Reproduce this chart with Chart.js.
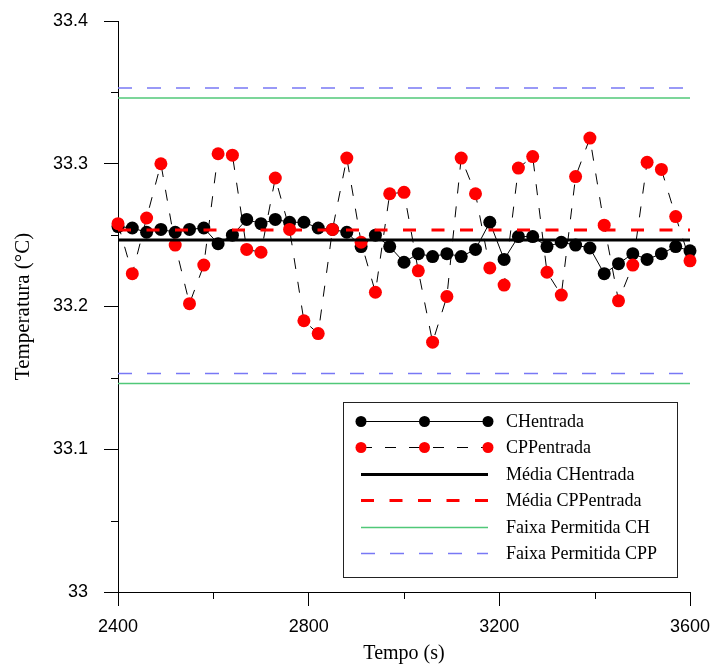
<!DOCTYPE html>
<html>
<head>
<meta charset="utf-8">
<script src="https://cdn.jsdelivr.net/npm/chart.js@4.4.0/dist/chart.umd.min.js"></script>
<style>
  html, body { margin: 0; padding: 0; background: #fff; }
  #box { width: 715px; height: 667px; }
</style>
</head>
<body>
<div id="box"><canvas id="grafico"></canvas></div>
<script>
// tempo (s), leituras a cada 30 s
var tempo = [2400, 2430, 2460, 2490, 2520, 2550, 2580, 2610, 2640, 2670, 2700,
             2730, 2760, 2790, 2820, 2850, 2880, 2910, 2940, 2970, 3000,
             3030, 3060, 3090, 3120, 3150, 3180, 3210, 3240, 3270, 3300,
             3330, 3360, 3390, 3420, 3450, 3480, 3510, 3540, 3570, 3600];

var chEntrada = [33.256, 33.255, 33.252, 33.254, 33.252, 33.254, 33.255, 33.244, 33.250, 33.261,
                 33.258, 33.261, 33.259, 33.259, 33.255, 33.254, 33.252, 33.242, 33.250, 33.242,
                 33.231, 33.237, 33.235, 33.237, 33.235, 33.240, 33.259, 33.233, 33.249, 33.249,
                 33.242, 33.245, 33.243, 33.241, 33.223, 33.230, 33.237, 33.233, 33.237, 33.242, 33.239];

var cppEntrada = [33.258, 33.223, 33.262, 33.300, 33.243, 33.202, 33.229, 33.307, 33.306, 33.240,
                  33.238, 33.290, 33.254, 33.190, 33.181, 33.254, 33.304, 33.245, 33.210, 33.279,
                  33.280, 33.225, 33.175, 33.207, 33.304, 33.279, 33.227, 33.215, 33.297, 33.305,
                  33.224, 33.208, 33.291, 33.318, 33.257, 33.204, 33.229, 33.301, 33.296, 33.263, 33.232];

// linhas horizontais (inicio e fim do periodo)
var extremos = [2400, 3600];
var mediaCH = [33.2466, 33.2466];
var mediaCPP = [33.2536, 33.2536];
var faixaCHsup = [33.346, 33.346];
var faixaCHinf = [33.146, 33.146];
var faixaCPPsup = [33.353, 33.353];
var faixaCPPinf = [33.153, 33.153];

var rotulos = ['CHentrada', 'CPPentrada', 'Média CHentrada', 'Média CPPentrada',
               'Faixa Permitida CH', 'Faixa Permitida CPP'];

function pares(xs, ys) {
  return xs.map(function(x, i) { return {x: x, y: ys[i]}; });
}

var verde = 'rgb(80,200,120)';
var azul = 'rgb(120,120,245)';

function linhaHoriz(label, valores, cor, largura, traco, ordem, naLegenda) {
  return {
    label: label, data: pares(extremos, valores),
    borderColor: cor, borderWidth: largura, borderDash: traco,
    pointRadius: 0, order: ordem, naLegenda: naLegenda, clip: false
  };
}

// minor ticks mais curtos
var ticksMenores = {
  id: 'ticksMenores',
  afterDraw: function(chart) {
    var ctx = chart.ctx;
    var sx = chart.scales.x, sy = chart.scales.y;
    ctx.save();
    ctx.strokeStyle = '#000';
    ctx.lineWidth = 1;
    ctx.beginPath();
    sx.ticks.forEach(function(t) {
      if (Math.round(t.value) % 400 != 0) {
        var px = Math.round(sx.getPixelForValue(t.value)) + 0.5;
        ctx.moveTo(px, sx.top);
        ctx.lineTo(px, sx.top + 7);
      }
    });
    sy.ticks.forEach(function(t) {
      if (Math.round(t.value * 100) % 10 != 0) {
        var py = Math.round(sy.getPixelForValue(t.value)) + 0.5;
        ctx.moveTo(sy.right, py);
        ctx.lineTo(sy.right - 7, py);
      }
    });
    ctx.stroke();
    ctx.restore();
  }
};

// legenda em caixa no canto inferior direito
var legenda = {
  id: 'legenda',
  afterDatasetsDraw: function(chart) {
    var ctx = chart.ctx, area = chart.chartArea;
    var w = 334, h = 175;
    var x0 = area.right - 13 - w, y0 = area.bottom - 15 - h;
    ctx.save();
    ctx.fillStyle = '#fff';
    ctx.fillRect(x0, y0, w, h);
    ctx.strokeStyle = '#222';
    ctx.lineWidth = 1;
    ctx.strokeRect(x0 + 0.5, y0 + 0.5, w, h);
    var itens = chart.data.datasets.filter(function(d) { return d.naLegenda; });
    itens.forEach(function(ds, i) {
      var y = Math.round(y0 + 19 + i * 26.4) + 0.5;
      var xa = x0 + 18, xb = x0 + 145;
      ctx.beginPath();
      ctx.setLineDash(ds.borderDash || []);
      ctx.strokeStyle = ds.borderColor;
      ctx.lineWidth = ds.borderWidth;
      ctx.moveTo(xa, y);
      ctx.lineTo(xb, y);
      ctx.stroke();
      ctx.setLineDash([]);
      if (ds.pointRadius > 0) {
        ctx.fillStyle = ds.pointBackgroundColor;
        [xa, (xa + xb) / 2, xb].forEach(function(px) {
          ctx.beginPath();
          ctx.arc(px, y, 5.5, 0, Math.PI * 2);
          ctx.fill();
        });
      }
      ctx.fillStyle = '#000';
      ctx.font = '18px "Liberation Serif", "Times New Roman", serif';
      ctx.textBaseline = 'middle';
      ctx.fillText(ds.label, x0 + 163, y + 1);
    });
    ctx.restore();
  }
};

var grafico = new Chart(document.getElementById('grafico'), {
  type: 'line',
  data: {
    datasets: [
      {
        label: rotulos[0], data: pares(tempo, chEntrada),
        borderColor: '#000', borderWidth: 1,
        pointRadius: 6.5, pointBackgroundColor: '#000', pointBorderWidth: 0,
        order: 4, naLegenda: true, clip: false
      },
      {
        label: rotulos[1], data: pares(tempo, cppEntrada),
        borderColor: '#000', borderWidth: 1, borderDash: [11, 13],
        pointRadius: 6.5, pointBackgroundColor: 'rgb(255,0,0)', pointBorderWidth: 0,
        order: 3, naLegenda: true, clip: false
      },
      linhaHoriz(rotulos[2], mediaCH, '#000', 3, [], 2, true),
      linhaHoriz(rotulos[3], mediaCPP, 'rgb(255,0,0)', 3, [13, 15.5], 1, true),
      linhaHoriz(rotulos[4], faixaCHsup, verde, 1.5, [], 5, true),
      linhaHoriz(rotulos[4], faixaCHinf, verde, 1.5, [], 5, false),
      linhaHoriz(rotulos[5], faixaCPPsup, azul, 1.5, [14, 15], 5, true),
      linhaHoriz(rotulos[5], faixaCPPinf, azul, 1.5, [14, 15], 5, false)
    ]
  },
  options: {
    responsive: true,
    maintainAspectRatio: false,
    animation: false,
    layout: { padding: { top: 21, right: 25, left: 0, bottom: 0 } },
    plugins: {
      legend: { display: false },
      tooltip: { enabled: false }
    },
    scales: {
      x: {
        type: 'linear', min: 2400, max: 3600,
        afterFit: function(s) { s.height = 75; s.paddingLeft = 0; s.paddingRight = 0; },
        border: { display: true, color: '#000', width: 1 },
        grid: {
          drawOnChartArea: false, drawTicks: true, tickLength: 14,
          tickColor: function(c) { return Math.round(c.tick.value) % 400 == 0 ? '#000' : 'rgba(0,0,0,0)'; }
        },
        ticks: {
          stepSize: 200, padding: 10, maxRotation: 0, autoSkip: false,
          color: '#000',
          font: { family: '"Liberation Sans", Arial, sans-serif', size: 18 },
          callback: function(v) { return Math.round(v) % 400 == 0 ? String(v) : ''; }
        },
        title: {
          display: true, text: 'Tempo (s)', color: '#000',
          font: { family: '"Liberation Serif", "Times New Roman", serif', size: 20 },
          padding: { top: 0, bottom: 1 }
        }
      },
      y: {
        min: 33, max: 33.4,
        afterFit: function(s) { s.width = 118; s.paddingTop = 0; s.paddingBottom = 0; },
        border: { display: true, color: '#000', width: 1 },
        grid: {
          drawOnChartArea: false, drawTicks: true, tickLength: 14,
          tickColor: function(c) { return Math.round(c.tick.value * 100) % 10 == 0 ? '#000' : 'rgba(0,0,0,0)'; }
        },
        ticks: {
          stepSize: 0.05, padding: 16, autoSkip: false,
          color: '#000',
          font: { family: '"Liberation Sans", Arial, sans-serif', size: 18 },
          callback: function(v) {
            return Math.round(v * 100) % 10 == 0 ? String(Number(v.toFixed(1))) : '';
          }
        },
        title: {
          display: true, text: 'Temperatura (°C)', color: '#000',
          font: { family: '"Liberation Serif", "Times New Roman", serif', size: 21 },
          padding: { top: 11, bottom: 0 }
        }
      }
    }
  },
  plugins: [ticksMenores, legenda]
});
</script>
</body>
</html>
